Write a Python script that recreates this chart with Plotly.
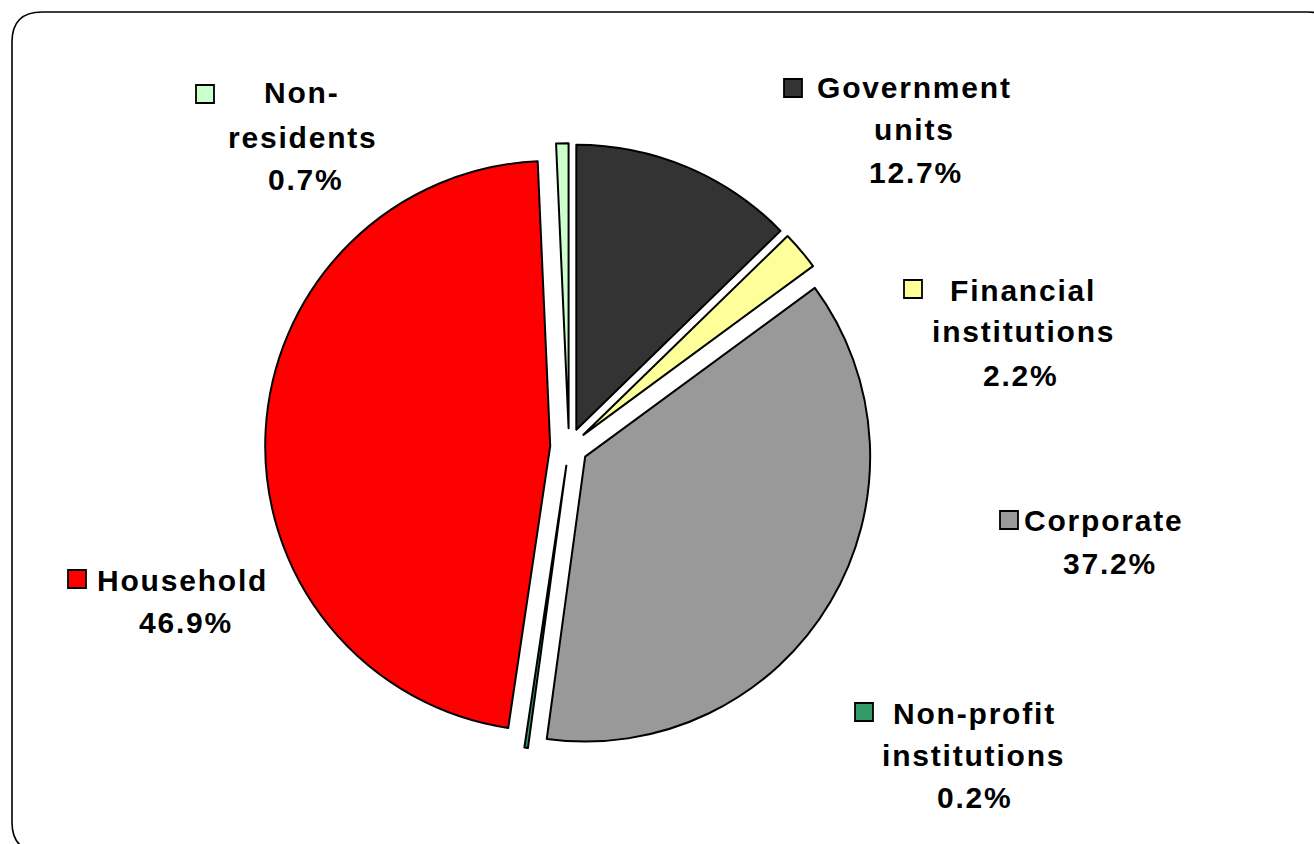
import plotly.graph_objects as go

W, H = 1314, 844

# Sector shares (%)
sectors = ["Government units", "Financial institutions", "Corporate",
           "Non-profit institutions", "Household", "Non-residents"]
shares = [12.7, 2.2, 37.2, 0.2, 46.9, 0.7]
colors = ["#333333", "#FFFF99", "#999999", "#339966", "#FF0000", "#CCFFCC"]

# Label lines for each sector (line text, centre x, centre y in px)
label_lines = {
    "Government units": [("Government", 914, 88), ("units", 914, 130), ("12.7%", 916, 172)],
    "Financial institutions": [("Financial", 1023, 290), ("institutions", 1023, 332), ("2.2%", 1021, 375)],
    "Corporate": [("Corporate", 1104, 520), ("37.2%", 1110, 563)],
    "Non-profit institutions": [("Non-profit", 974, 713), ("institutions", 973, 755), ("0.2%", 975, 797)],
    "Household": [("Household", 182, 580), ("46.9%", 186, 622)],
    "Non-residents": [("Non-", 302, 93), ("residents", 303, 137), ("0.7%", 306, 180)],
}
# Key square top-left corner (px)
key_pos = {
    "Government units": (784, 79),
    "Financial institutions": (904, 280),
    "Corporate": (1000, 511),
    "Non-profit institutions": (855, 703),
    "Household": (68, 570),
    "Non-residents": (196, 85),
}
KEY = 18

PULL = 0.066
CX, CY, R = 569, 447, 285


def px(x):
    return x / W


def py(y):
    return 1 - y / H


box = R * (2 + 2 * PULL)

fig = go.Figure(go.Pie(
    labels=sectors,
    values=shares,
    sort=False,
    direction="clockwise",
    rotation=0,
    pull=[PULL] * len(shares),
    marker=dict(colors=colors, line=dict(color="black", width=2)),
    textinfo="none",
    hoverinfo="label+percent",
    showlegend=False,
    domain=dict(x=[px(CX - box / 2), px(CX + box / 2)],
                y=[py(CY + box / 2), py(CY - box / 2)]),
))

annotations = []
for name, lines in label_lines.items():
    for txt, x, y in lines:
        annotations.append(dict(
            text=f"<span style='letter-spacing:1.8px'><b>{txt}</b></span>",
            x=px(x), y=py(y), xref="paper", yref="paper",
            xanchor="center", yanchor="middle", showarrow=False,
            font=dict(family="Liberation Sans, Arial", size=30, color="black"),
        ))

shapes = []
for name, (x0, y0) in key_pos.items():
    c = colors[sectors.index(name)]
    shapes.append(dict(
        type="rect", xref="paper", yref="paper",
        x0=px(x0), x1=px(x0 + KEY), y0=py(y0 + KEY), y1=py(y0),
        fillcolor=c, line=dict(color="black", width=1.8),
    ))

# Rounded chart-area border
L, T, Rt, B, rad = 12, 12, 1338, 852, 30
pts = [
    ("M", (L, T + rad)),
    ("Q", (L, T), (L + rad, T)),
    ("L", (Rt - rad, T)),
    ("Q", (Rt, T), (Rt, T + rad)),
    ("L", (Rt, B - rad)),
    ("Q", (Rt, B), (Rt - rad, B)),
    ("L", (L + rad, B)),
    ("Q", (L, B), (L, B - rad)),
]
path = ""
for seg in pts:
    cmd = seg[0]
    coords = " ".join(f"{px(x):.5f},{py(y):.5f}" for x, y in seg[1:])
    path += f"{cmd} {coords} "
path += "Z"
shapes.append(dict(type="path", xref="paper", yref="paper", path=path,
                   line=dict(color="black", width=1.6), fillcolor="rgba(0,0,0,0)"))

fig.update_layout(
    width=W, height=H,
    margin=dict(l=0, r=0, t=0, b=0),
    paper_bgcolor="white",
    plot_bgcolor="white",
    annotations=annotations,
    shapes=shapes,
)

fig.write_html("out.html")
